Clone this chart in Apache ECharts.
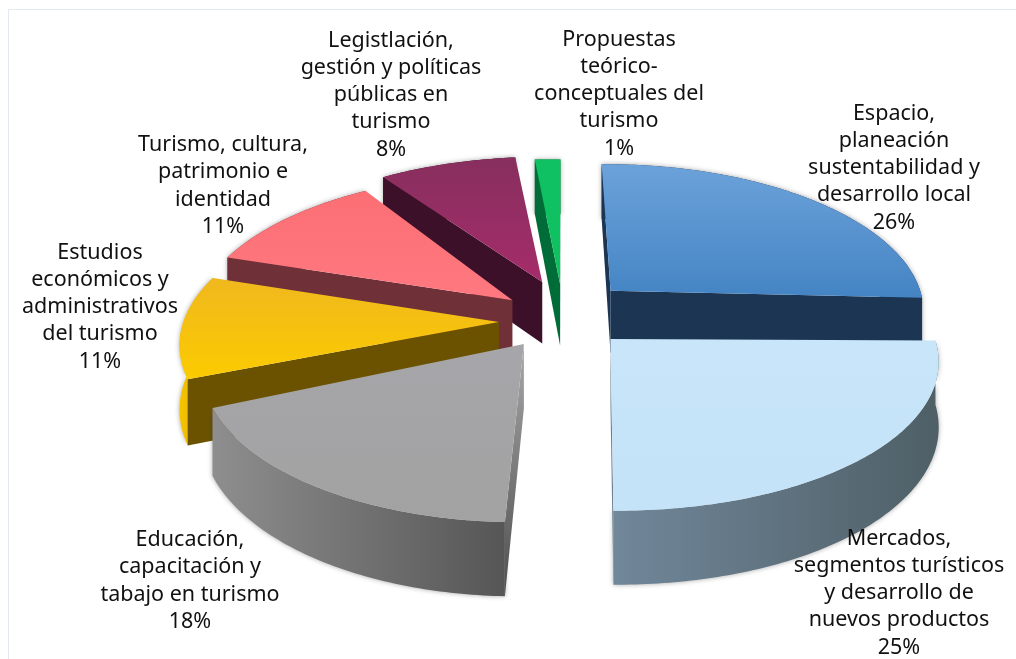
<!DOCTYPE html>
<html>
<head>
<meta charset="utf-8">
<style>html,body{margin:0;padding:0;background:#fff}#chart{width:1016px;height:659px}</style>
<script src="https://cdn.jsdelivr.net/npm/echarts@6/dist/echarts.min.js"></script>
</head>
<body>
<div id="chart"></div>
<script>
// Temáticas de investigación turística: share of each theme, clockwise from the top.
const categories = [
  'Espacio,\nplaneación\nsustentabilidad y\ndesarrollo local',
  'Mercados,\nsegmentos turísticos\ny desarrollo de\nnuevos productos',
  'Educación,\ncapacitación y\ntabajo en turismo',
  'Estudios\neconómicos y\nadministrativos\ndel turismo',
  'Turismo, cultura,\npatrimonio e\nidentidad',
  'Legistlación,\ngestión y políticas\npúblicas en\nturismo',
  'Propuestas\nteórico-\nconceptuales del\nturismo'
];
const shares = [26, 25, 18, 11, 11, 8, 1];

// Painter's order, furthest slice first.
const paintRank = [4, 6, 5, 3, 2, 1, 0];

// Disc projection.
const disc = { cx: 560, cy: 313, rx: 325, ry: 148, persp: 0.13, depth: 63, explode: 0.2 };

const look = [
  { top: ['#6ca2da', '#4484c4'], cut: ['#1b3552', '#1b3552'], wall: ['#1b3552', '#1b3552'], turn: -0.8, shift: [6, -2], scale: [0.97, 1], label: [894, 168] },
  { top: ['#c8e5f9', '#c4e3f8'], cut: ['#6d8290', '#6d8290'], wall: ['#71879a', '#4e5f66'], turn: -3, shift: [5, 5], scale: [0.98, 0.97], label: [899, 593] },
  { top: ['#a6a6aa', '#a2a2a2'], cut: ['#a8a8a8', '#4e4e4e'], wall: ['#8e8e8e', '#565656'], turn: -1.5, shift: [0, 6], scale: [0.96, 1], label: [190, 581] },
  { top: ['#f0b81e', '#fbcb00'], cut: ['#6b5200', '#6b5200'], wall: ['#f6c400', '#d9a800'], turn: 0, shift: [2, 8], scale: [0.97, 1], label: [100, 307] },
  { top: ['#fb6f74', '#ff7880'], cut: ['#6f3038', '#6f3038'], wall: ['#6f3038', '#6f3038'], turn: 0, shift: [2, 5], scale: [0.98, 1], label: [223, 186] },
  { top: ['#872f5e', '#a52c6a'], cut: ['#3c1029', '#3c1029'], wall: ['#3c1029', '#3c1029'], turn: -2.5, shift: [4, -4], scale: [0.98, 1], label: [391, 95] },
  { top: ['#0fc163', '#10c060'], cut: ['#006d38', '#006d38'], wall: ['#006d38', '#006d38'], turn: 0, shift: [3, 0], scale: [1.45, 1], label: [619, 94] }
];

const total = shares.reduce((a, b) => a + b, 0);
const startAngle = i => shares.slice(0, i).reduce((a, b) => a + b, 0) / total * 2 * Math.PI;

function project(u, v, drop, s) {
  const w = 1 - disc.persp * v;
  return [
    disc.cx + s.shift[0] + disc.rx * s.scale[0] * u / w,
    disc.cy + s.shift[1] + (disc.ry * s.scale[1] * v + drop) / w
  ];
}

function area(p) {
  let a = 0;
  p.forEach((q, i) => { const r = p[(i + 1) % p.length]; a += q[0] * r[1] - r[0] * q[1]; });
  return a / 2;
}

function vertical(colors) {
  return new echarts.graphic.LinearGradient(0, 0, 0, 1, [
    { offset: 0, color: colors[0] }, { offset: 1, color: colors[1] }
  ]);
}
function horizontal(colors) {
  return new echarts.graphic.LinearGradient(0, 0, 1, 0, [
    { offset: 0, color: colors[0] }, { offset: 1, color: colors[1] }
  ]);
}

function renderSlice(params, api) {
  const i = params.dataIndex;
  const s = look[i];
  const turn = s.turn * Math.PI / 180;
  const a0 = startAngle(i) + turn;
  const a1 = a0 + api.value(0) / total * 2 * Math.PI;
  const mid = (a0 + a1) / 2;
  const ou = Math.sin(mid) * disc.explode;
  const ov = -Math.cos(mid) * disc.explode;

  const rim = drop => {
    const pts = [];
    const steps = Math.max(2, Math.ceil((a1 - a0) / 0.015));
    for (let k = 0; k <= steps; k++) {
      const a = a0 + (a1 - a0) * k / steps;
      pts.push(project(ou + Math.sin(a), ov - Math.cos(a), drop, s));
    }
    return pts;
  };
  const upper = rim(0);
  const lower = rim(disc.depth);
  const apexUp = project(ou, ov, 0, s);
  const apexDown = project(ou, ov, disc.depth, s);
  const base = paintRank[i] * 10 + 10;

  const children = [];
  children.push({
    type: 'polygon',
    z2: base,
    shape: { points: upper.concat(lower.slice().reverse()) },
    style: { fill: horizontal(s.wall), shadowBlur: 5, shadowColor: 'rgba(60,60,60,0.45)' }
  });
  const startFace = [apexUp, upper[0], lower[0], apexDown];
  const endFace = [apexUp, upper[upper.length - 1], lower[lower.length - 1], apexDown];
  if (area(startFace) < 0) {
    children.push({ type: 'polygon', z2: base + 1, shape: { points: startFace }, style: { fill: vertical(s.cut) } });
  }
  if (area(endFace) > 0) {
    children.push({ type: 'polygon', z2: base + 1, shape: { points: endFace }, style: { fill: vertical(s.cut) } });
  }
  children.push({
    type: 'polygon',
    z2: base + 2,
    shape: { points: [apexUp].concat(upper) },
    style: { fill: vertical(s.top) }
  });
  children.push({
    type: 'text',
    z2: 200,
    x: s.label[0],
    y: s.label[1],
    style: {
      text: categories[i] + '\n' + api.value(0) + '%',
      fill: '#111',
      font: '21.5px "Noto Sans"',
      lineHeight: 27.3,
      align: 'center',
      verticalAlign: 'middle'
    }
  });
  return { type: 'group', children };
}

const chart = echarts.init(document.getElementById('chart'), null, { renderer: 'canvas' });
chart.setOption({
  animation: false,
  backgroundColor: '#fff',
  graphic: [
    { type: 'rect', shape: { x: 8, y: 9, width: 1008, height: 1 }, style: { fill: '#e4e9f1' } },
    { type: 'rect', shape: { x: 8, y: 9, width: 1, height: 650 }, style: { fill: '#e4e9f1' } }
  ],
  series: [{
    type: 'custom',
    coordinateSystem: 'none',
    renderItem: renderSlice,
    data: shares.map(v => [v])
  }]
});
</script>
</body>
</html>
